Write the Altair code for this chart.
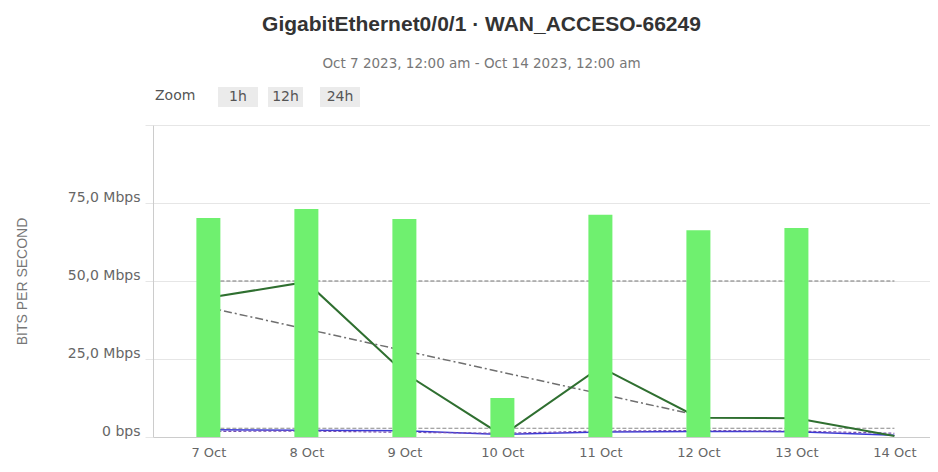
import altair as alt
import pandas as pd

# ---- data ----
days = [7, 8, 9, 10, 11, 12, 13, 14]
bar_days = [7, 8, 9, 10, 11, 12, 13]
bar_values = [70.2, 73.1, 69.9, 12.5, 71.2, 66.3, 67.0]          # Mbps
green_values = [44.6, 49.7, 20.5, 0.5, 22.4, 6.2, 6.0, 0.3]       # Mbps
blue_values = [2.3, 2.2, 2.0, 0.8, 1.6, 1.8, 1.7, 0.6]
purple_values = [1.8, 1.9, 1.5, 1.2, 1.9, 2.1, 1.9, 1.2]
trend_days = [7, 12]
trend_values = [41.5, 6.9]
threshold_days = [7, 14]
threshold_values = [50, 50]
low_days = [7, 14]
low_values = [2.8, 2.8]
buttons = ["1h", "12h", "24h"]

title_text = "GigabitEthernet0/0/1 · WAN_ACCESO-66249"
subtitle_text = "Oct 7 2023, 12:00 am - Oct 14 2023, 12:00 am"

bars_df = pd.DataFrame({"day": bar_days, "v": bar_values})
green_df = pd.DataFrame({"day": days, "v": green_values})
blue_df = pd.DataFrame({"day": days, "v": blue_values})
purple_df = pd.DataFrame({"day": days, "v": purple_values})
trend_df = pd.DataFrame({"day": trend_days, "v": trend_values})
thr_df = pd.DataFrame({"day": threshold_days, "v": threshold_values})
low_df = pd.DataFrame({"day": low_days, "v": low_values})

FONT = "DejaVu Sans"

x_scale = alt.Scale(domain=[6.486, 14.312], nice=False, zero=False)
y_scale = alt.Scale(domain=[0, 100], nice=False)

x_enc = alt.X(
    "day:Q", scale=x_scale,
    axis=alt.Axis(
        values=days, title=None, grid=False, ticks=False,
        labelExpr="datum.value + ' Oct'", labelFont=FONT, labelFontSize=13,
        labelColor="#666666", labelPadding=9, domainColor="#cccccc",
        labelFlush=False,
    ),
)
y_enc = alt.Y(
    "v:Q", scale=y_scale,
    axis=alt.Axis(
        values=[0, 25, 50, 75, 100], title="BITS PER SECOND",
        labelExpr="datum.value == 0 ? '0 bps' : (datum.value >= 100 ? '' : replace(format(datum.value, '.1f'), '.', ',') + ' Mbps')",
        labelFont=FONT, labelFontSize=14, labelColor="#666666",
        labelPadding=5, labelOffset=-6,
        tickSize=8, tickColor="#e6e6e6", gridColor="#e6e6e6",
        domainColor="#cccccc",
        titleFont="Liberation Sans", titleFontSize=14, titleFontWeight="normal",
        titleColor="#777777", titleX=-131, titleY=156, titleAngle=-90,
        titleAlign="center", titleBaseline="middle",
    ),
)

thr = alt.Chart(thr_df).mark_line(color="#777777", strokeWidth=1.2, strokeDash=[4, 2]).encode(x=x_enc, y=y_enc)
low = alt.Chart(low_df).mark_line(color="#888888", strokeWidth=1, strokeDash=[4, 2]).encode(x="day:Q", y="v:Q")
blue = alt.Chart(blue_df).mark_line(color="#3a3ad6", strokeWidth=1.5).encode(x="day:Q", y="v:Q")
purple = alt.Chart(purple_df).mark_line(color="#7a4fb0", strokeWidth=1.2, strokeDash=[3, 2]).encode(x="day:Q", y="v:Q")
trend = alt.Chart(trend_df).mark_line(color="#6f6f6f", strokeWidth=1.5, strokeDash=[8, 3, 2, 3]).encode(x="day:Q", y="v:Q")
green = alt.Chart(green_df).mark_line(color="#2f6f30", strokeWidth=2).encode(x="day:Q", y="v:Q")
bars = alt.Chart(bars_df).mark_bar(color="#6ff06f", size=24).encode(x="day:Q", y="v:Q")

# Zoom buttons above the plot
zoom_label = alt.Chart(pd.DataFrame({"t": ["Zoom"]})).mark_text(
    font=FONT, fontSize=14, color="#555555", align="left", baseline="alphabetic"
).encode(text="t:N", x=alt.value(2), y=alt.value(-25))

btn_layers = []
btn_boxes = [(65, 105), (115, 150), (167, 207)]
for label, (bx0, bx1) in zip(buttons, btn_boxes):
    d = pd.DataFrame({"t": [label]})
    btn_layers.append(
        alt.Chart(d).mark_rect(color="#ebebeb").encode(
            x=alt.value(bx0), x2=alt.value(bx1), y=alt.value(-38), y2=alt.value(-18)
        )
    )
    btn_layers.append(
        alt.Chart(d).mark_text(font=FONT, fontSize=14, color="#555555", align="center", baseline="alphabetic").encode(
            text="t:N", x=alt.value((bx0 + bx1) / 2), y=alt.value(-24)
        )
    )

chart = alt.layer(
    thr, low, blue, purple, trend, green, bars, zoom_label, *btn_layers
).properties(
    width=777, height=312,
    autosize=alt.AutoSizeParams(type="none"),
    padding={"left": 145, "top": 117, "right": 0, "bottom": 27},
    title=alt.TitleParams(
        text=title_text, subtitle=subtitle_text, anchor="middle", frame="group",
        dx=-60, offset=17, font="Liberation Sans", fontSize=21, fontWeight="bold",
        color="#333333", subtitleFont=FONT, subtitleFontSize=13.5,
        subtitleColor="#777777", subtitlePadding=22,
    ),
).configure_view(stroke=None)

chart.save("out.html", embed_options={"renderer": "svg", "actions": False})
